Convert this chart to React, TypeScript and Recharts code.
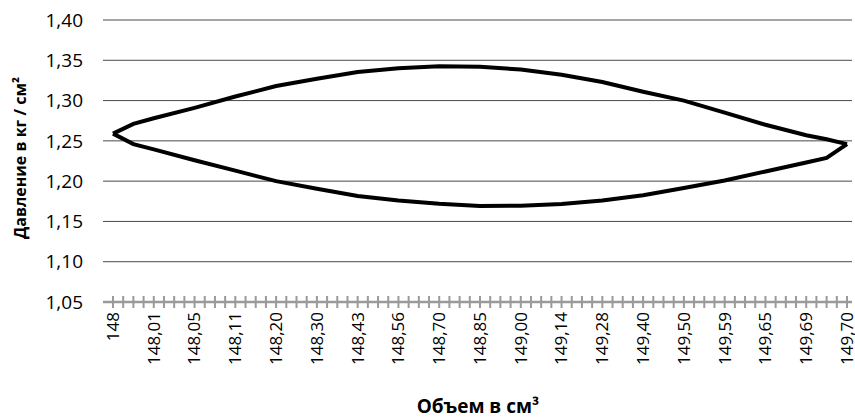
import React from 'react';
import { LineChart, Line, XAxis, YAxis, CartesianGrid } from 'recharts';

const tickLabels = ['148', '148,01', '148,05', '148,11', '148,20', '148,30', '148,43', '148,56', '148,70', '148,85', '149,00', '149,14', '149,28', '149,40', '149,50', '149,59', '149,65', '149,69', '149,70'];
const categoriesPerLabel = 4;
const sampleIndex = [0, 2, 4, 8, 12, 16, 20, 24, 28, 32, 36, 40, 44, 48, 52, 56, 60, 64, 68, 70, 72];
const upperPressure = [1.259, 1.271, 1.278, 1.291, 1.305, 1.318, 1.327, 1.3355, 1.340, 1.3425, 1.342, 1.3385, 1.332, 1.323, 1.311, 1.300, 1.285, 1.270, 1.257, 1.252, 1.246];
const lowerPressure = [1.259, 1.246, 1.2395, 1.226, 1.213, 1.200, 1.1905, 1.1815, 1.176, 1.1718, 1.1692, 1.1695, 1.1715, 1.176, 1.1826, 1.1914, 1.2008, 1.212, 1.2232, 1.2288, 1.246];
const yTicks = [1.05, 1.1, 1.15, 1.2, 1.25, 1.3, 1.35, 1.4];

const FONT = "'Open Sans', sans-serif";

const categoryCount = (tickLabels.length - 1) * categoriesPerLabel + 1;
const data = Array.from({ length: categoryCount }, (_, i) => {
  const k = sampleIndex.indexOf(i);
  return {
    i,
    upper: k >= 0 ? upperPressure[k] : null,
    lower: k >= 0 ? lowerPressure[k] : null,
  };
});

const XTick = (props: any) => {
  const { x, y, payload } = props;
  const idx = payload.value as number;
  const label = idx % categoriesPerLabel === 0 ? tickLabels[idx / categoriesPerLabel] : null;
  return (
    <g>
      <line x1={x} x2={x} y1={y - 6} y2={y + 6} stroke="#9a9a9a" strokeWidth={2} />
      {label !== null && (
        <text
          x={x}
          y={y + 10}
          transform={`rotate(-90, ${x}, ${y + 10})`}
          textAnchor="end"
          dy="0.35em"
          fontSize={17}
          fontFamily={FONT}
          fill="#000"
        >
          {label}
        </text>
      )}
    </g>
  );
};

export default function App() {
  return (
    <div style={{ position: 'absolute', left: 0, top: 0, width: 855, height: 419, background: '#fff' }}>
      <LineChart width={855} height={419} data={data} margin={{ top: 20, right: 3, bottom: 0, left: 0 }}>
        <CartesianGrid vertical={false} stroke="#4a4a4a" strokeWidth={1} />
        <XAxis
          dataKey="i"
          type="category"
          interval={0}
          tickLine={false}
          tickSize={0}
          tickMargin={0}
          tick={<XTick />}
          axisLine={{ stroke: '#9a9a9a', strokeWidth: 2.5 }}
          padding={{ left: 10, right: 5 }}
          height={117}
        />
        <YAxis
          width={103}
          domain={[1.05, 1.4]}
          ticks={yTicks}
          interval={0}
          axisLine={false}
          tickLine={false}
          tickSize={0}
          tickMargin={20}
          tickFormatter={(v: number) => v.toFixed(2).replace('.', ',')}
          tick={{ fontSize: 19, fill: '#000', fontFamily: FONT }}
        />
        <Line dataKey="upper" stroke="#000" strokeWidth={4} dot={false} connectNulls isAnimationActive={false} />
        <Line dataKey="lower" stroke="#000" strokeWidth={4} dot={false} connectNulls isAnimationActive={false} />
      </LineChart>
      <svg width={855} height={419} style={{ position: 'absolute', left: 0, top: 0, pointerEvents: 'none' }}>
        <text
          x={20}
          y={158}
          transform="rotate(-90, 20, 158)"
          textAnchor="middle"
          dy="0.35em"
          fontSize={16}
          fontWeight="bold"
          fontFamily={FONT}
          fill="#000"
        >
          Давление в кг / см²
        </text>
        <text x={478} y={413} textAnchor="middle" fontSize={19} fontWeight="bold" fontFamily={FONT} fill="#000">
          Объем в см³
        </text>
      </svg>
    </div>
  );
}
